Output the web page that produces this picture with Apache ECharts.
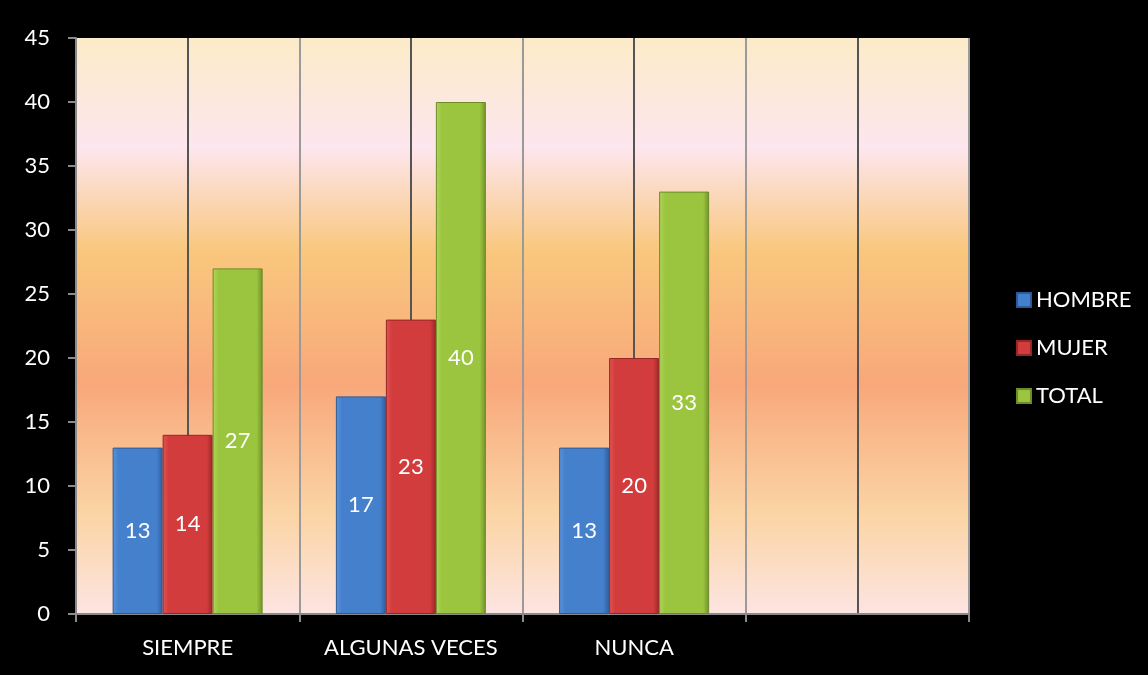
<!DOCTYPE html>
<html>
<head>
<meta charset="utf-8">
<script src="https://cdn.jsdelivr.net/npm/echarts@6/dist/echarts.min.js"></script>
<style>
  html, body { margin: 0; padding: 0; background: #000; }
  #chart { width: 1148px; height: 675px; }
</style>
</head>
<body>
<div id="chart"></div>
<script>
// categories (the 4th slot is empty in the original)
const categories = ['SIEMPRE', 'ALGUNAS VECES', 'NUNCA', ''];
const hombre = [13, 17, 13, null];
const mujer = [14, 23, 20, null];
const total = [27, 40, 33, null];
const yTicks = { min: 0, max: 45, step: 5 };

const FONT = 'Lato, "Open Sans", sans-serif';

function barGrad(light, mid, dark) {
  return new echarts.graphic.LinearGradient(0, 0, 1, 0, [
    { offset: 0, color: light },
    { offset: 0.12, color: mid },
    { offset: 0.88, color: mid },
    { offset: 1, color: dark }
  ]);
}

const myChart = echarts.init(document.getElementById('chart'));

const labelStyle = {
  show: true,
  position: 'inside',
  color: '#fff',
  fontSize: 22,
  fontFamily: FONT
};

myChart.setOption({
  backgroundColor: '#000',
  animation: false,
  grid: {
    left: 76, right: 179, top: 38, bottom: 61,
    show: true,
    borderWidth: 0,
    backgroundColor: new echarts.graphic.LinearGradient(0, 0, 0, 1, [
      { offset: 0, color: '#fcebc8' },
      { offset: 0.19, color: '#fde6ee' },
      { offset: 0.37, color: '#f9c77d' },
      { offset: 0.60, color: '#f8a87a' },
      { offset: 0.83, color: '#fbd5a6' },
      { offset: 1, color: '#fde4e2' }
    ])
  },
  legend: {
    orient: 'vertical',
    left: 1011,
    top: 284,
    itemWidth: 14,
    itemHeight: 14,
    itemGap: 26,
    icon: 'rect',
    textStyle: { color: '#fff', fontSize: 22, fontFamily: FONT },
    data: ['HOMBRE', 'MUJER', 'TOTAL']
  },
  xAxis: [
    {
      type: 'category',
      data: categories,
      axisLine: { lineStyle: { color: '#8a8a8a', width: 2 } },
      axisTick: { show: true, interval: 0, length: 8, lineStyle: { color: '#8a8a8a', width: 2 } },
      axisLabel: { color: '#fff', fontSize: 22, fontFamily: FONT, margin: 23, interval: 0 },
      splitLine: { show: false }
    },
    {
      // half-category grid lines: dark at group centres, light at boundaries
      type: 'value',
      position: 'bottom',
      min: 0, max: 8, interval: 1,
      axisLine: { show: false },
      axisTick: { show: false },
      axisLabel: { show: false },
      splitLine: { show: true, lineStyle: { color: ['#9a9a9a', '#555'], width: 2 } }
    }
  ],
  yAxis: {
    type: 'value',
    min: yTicks.min,
    max: yTicks.max,
    interval: yTicks.step,
    axisLine: { show: true, lineStyle: { color: '#8a8a8a', width: 2 } },
    axisTick: { show: true, length: 8, lineStyle: { color: '#8a8a8a', width: 2 } },
    axisLabel: { color: '#fff', fontSize: 22, fontFamily: FONT, margin: 26 },
    splitLine: { show: false }
  },
  series: [
    {
      name: 'HOMBRE', type: 'bar', xAxisIndex: 0, data: hombre,
      barWidth: 50, barGap: '0%',
      itemStyle: { color: barGrad('#5b93dc', '#4580cc', '#2f5f9f'), borderColor: '#2d5a96', borderWidth: 1 },
      label: labelStyle
    },
    {
      name: 'MUJER', type: 'bar', xAxisIndex: 0, data: mujer,
      barWidth: 50, barGap: '0%',
      itemStyle: { color: barGrad('#e25555', '#d23c3c', '#9e2727'), borderColor: '#962525', borderWidth: 1 },
      label: labelStyle
    },
    {
      name: 'TOTAL', type: 'bar', xAxisIndex: 0, data: total,
      barWidth: 50, barGap: '0%',
      itemStyle: { color: barGrad('#b0d65a', '#9bc43f', '#6f9228'), borderColor: '#6b8c27', borderWidth: 1 },
      label: labelStyle
    }
  ]
});
</script>
</body>
</html>
